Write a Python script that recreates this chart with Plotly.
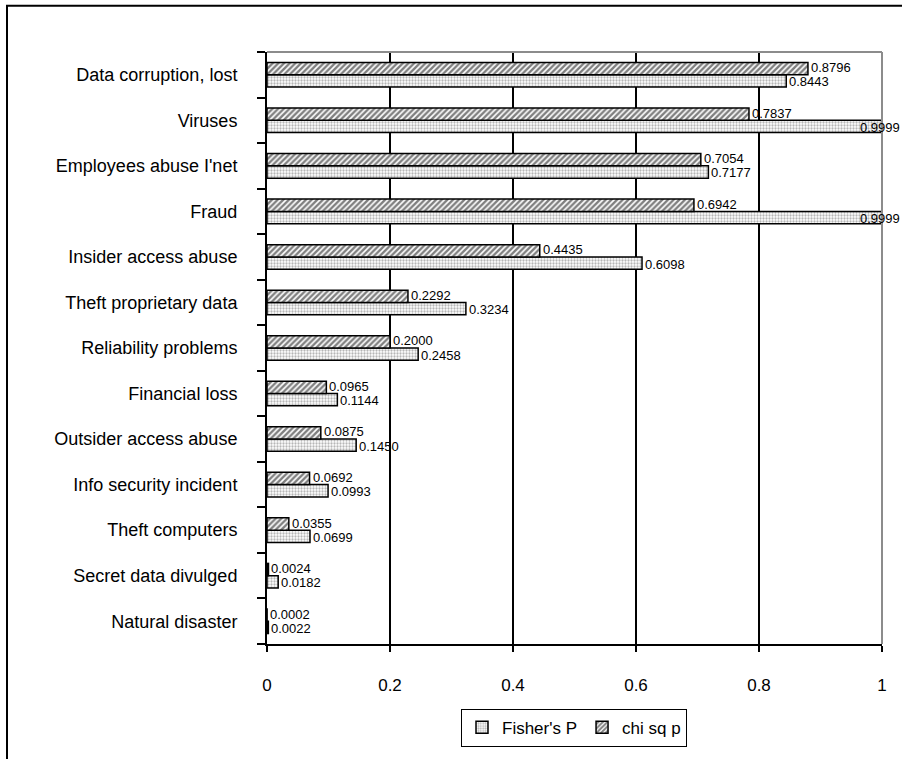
import plotly.graph_objects as go

# Incident categories (top to bottom) and their p-values
categories = [
    "Data corruption, lost",
    "Viruses",
    "Employees abuse I'net",
    "Fraud",
    "Insider access abuse",
    "Theft proprietary data",
    "Reliability problems",
    "Financial loss",
    "Outsider access abuse",
    "Info security incident",
    "Theft computers",
    "Secret data divulged",
    "Natural disaster",
]
chi_sq_p = [0.8796, 0.7837, 0.7054, 0.6942, 0.4435, 0.2292, 0.2000,
            0.0965, 0.0875, 0.0692, 0.0355, 0.0024, 0.0002]
fishers_p = [0.8443, 0.9999, 0.7177, 0.9999, 0.6098, 0.3234, 0.2458,
             0.1144, 0.1450, 0.0993, 0.0699, 0.0182, 0.0022]
x_ticks = [0, 0.2, 0.4, 0.6, 0.8, 1]
x_grid = [0.2, 0.4, 0.6, 0.8]

W, H = 902, 759
ML, MR, MT, MB = 267, 20, 52, 104
PW, PH = W - ML - MR, H - MT - MB

n = len(categories)
ypos = [n - 1 - i for i in range(n)]
bar_w = 0.27

FONT = "Liberation Sans, Arial, sans-serif"
LABEL_SIZE = 13

fig = go.Figure()
fig.add_trace(go.Bar(
    name="Fisher's P", orientation="h", y=ypos, x=fishers_p,
    width=bar_w, offset=-bar_w,
    marker=dict(color="white",
                line=dict(color="black", width=1.5),
                pattern=dict(shape=".", fgcolor="#6e6e6e", bgcolor="white",
                             size=3, solidity=0.45)),
))
fig.add_trace(go.Bar(
    name="chi sq p", orientation="h", y=ypos, x=chi_sq_p,
    width=bar_w, offset=0,
    marker=dict(color="white",
                line=dict(color="black", width=1.5),
                pattern=dict(shape="/", fgcolor="black", bgcolor="white",
                             size=4, solidity=0.6)),
))

# value labels at the end of each bar; labels that would run past the
# chart's right edge are pulled back inside it
label_px = 42
annotations = []
for vals, dy, ys in ((chi_sq_p, bar_w / 2, 1), (fishers_p, -bar_w / 2, -1)):
    for v, y in zip(vals, ypos):
        txt = f"{v:.4f}"
        end_px = v * PW + 3 + label_px
        font = dict(size=LABEL_SIZE, family=FONT, color="black")
        if end_px > PW + MR:
            annotations.append(dict(x=1, xref="paper", y=y + dy, yref="y",
                                    text=txt, showarrow=False, xanchor="right",
                                    xshift=MR, yshift=ys, font=font))
        else:
            annotations.append(dict(x=v, xref="x", y=y + dy, yref="y",
                                    text=txt, showarrow=False, xanchor="left",
                                    xshift=1, yshift=ys, font=font))

shapes = [
    # plot area frame: grey top and right edges
    dict(type="line", xref="x domain", yref="y domain", x0=0, x1=1, y0=1, y1=1,
         line=dict(color="#8c8c8c", width=2)),
    dict(type="line", xref="x domain", yref="y domain", x0=1, x1=1, y0=0, y1=1,
         line=dict(color="#8c8c8c", width=2)),
    # chart area frame
    dict(type="rect", xref="paper", yref="paper",
         x0=(7 - ML) / PW, x1=(W + 20 - ML) / PW,
         y0=(MT + PH - (H + 20)) / PH, y1=(MT + PH - 5) / PH,
         line=dict(color="black", width=2)),
]

fig.update_layout(
    width=W, height=H,
    margin=dict(l=ML, r=MR, t=MT, b=MB),
    paper_bgcolor="white", plot_bgcolor="white",
    barmode="overlay",
    showlegend=True,
    legend=dict(orientation="h", x=(574 - ML) / PW, xanchor="center",
                y=(MT + PH - 721) / PH, yanchor="top",
                bordercolor="black", borderwidth=1,
                font=dict(size=17, family=FONT, color="black"),
                traceorder="normal", itemwidth=30),
    font=dict(family=FONT, color="black"),
    annotations=annotations,
    shapes=shapes,
)

fig.update_xaxes(
    range=[0, 1], tickvals=x_ticks, ticktext=[f"{t:g}" for t in x_ticks],
    showgrid=False,
    minor=dict(tickvals=x_grid, showgrid=True, gridcolor="black",
               gridwidth=1.5, ticks=""),
    showline=True, linecolor="black", linewidth=2,
    ticks="outside", ticklen=6, tickwidth=2, tickcolor="black",
    ticklabelstandoff=19,
    tickfont=dict(size=17, family=FONT, color="black"),
    zeroline=False, fixedrange=True,
)
fig.update_yaxes(
    range=[-0.5, n - 0.5], tickvals=ypos, ticktext=categories,
    showgrid=False, zeroline=False,
    showline=True, linecolor="black", linewidth=2,
    ticks="", ticklabelstandoff=24,
    minor=dict(tickvals=[k - 0.5 for k in range(n + 1)], ticks="outside",
               ticklen=8, tickwidth=2, tickcolor="black", showgrid=False),
    tickfont=dict(size=18, family=FONT, color="black"),
)

fig.write_html("out.html")
